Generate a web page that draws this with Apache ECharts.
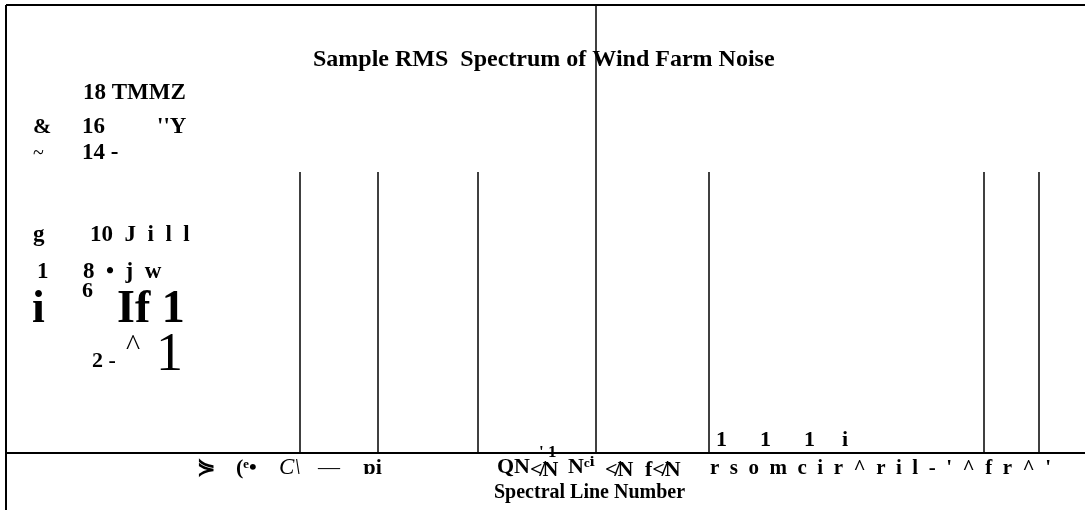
<!DOCTYPE html>
<html>
<head>
<meta charset="utf-8">
<script src="https://cdn.jsdelivr.net/npm/echarts@6/dist/echarts.min.js"></script>
<style>
html, body { margin: 0; padding: 0; background: #fff; }
#chart { width: 1085px; height: 510px; }
</style>
</head>
<body>
<div id="chart"></div>
<script>
// spectral lines: position along the axis and height of each line
var lineNumbers = [294, 372, 472, 590, 703, 978, 1033];
var lineLevels = [281, 281, 281, 448, 281, 281, 281];

var titleText = 'Sample RMS  Spectrum of Wind Farm Noise';
var xAxisName = 'Spectral Line Number';

// scanned axis labels, as they came out of the page
var yLabels = ['18 TMMZ', '&', '16', '\'\'Y', '~', '14 -', 'g', '10  J  i  l  l',
               '1', '8  •  j  w', 'i', '6', 'If 1', '2 -', '^', '1'];
var barTopLabels = ['1', '1', '1', 'i'];
var xTickLabels = ['⋟', '(ᵉ•', 'C\\', '—', 'ɒi', 'QN', '≮N', '\' 1', 'Nᶜⁱ', '≮N', 'f≮N',
                   'r  s  o  m  c  i  r  ^  r  i  l  -  \'  ^  f  r  ^  \''];

var serif = '"Liberation Serif", "DejaVu Serif", serif';

// where each label sits: [x, y, size, weight, style]
var yLabelPos = [
  [83, 93, 23, 'bold'], [33, 127, 22, 'bold'], [82, 127, 23, 'bold'], [157, 127, 23, 'bold'],
  [33, 154, 20, 'normal'], [82, 153, 23, 'bold'], [33, 235, 23, 'bold'], [90, 235, 23, 'bold'],
  [37, 272, 23, 'bold'], [83, 272, 23, 'bold'], [32, 310, 46, 'bold'], [82, 291, 22, 'bold'],
  [117, 310, 46, 'bold'], [92, 361, 22, 'bold'], [126, 347, 30, 'normal'], [156, 356, 54, 'normal']
];
var barTopPos = [[716, 440], [760, 440], [804, 440], [842, 440]];
var xTickPos = [
  [197, 468, 22, 'bold', 'normal'], [236, 468, 22, 'bold', 'normal'], [279, 468, 23, 'normal', 'italic'],
  [318, 468, 22, 'normal', 'normal'], [363, 468, 22, 'bold', 'normal'], [497, 467, 22, 'bold', 'normal'],
  [530, 470, 22, 'bold', 'normal'], [539, 453, 17, 'bold', 'normal'], [568, 467, 22, 'bold', 'normal'],
  [605, 470, 22, 'bold', 'normal'], [645, 470, 22, 'bold', 'normal'], [710, 469, 21, 'bold', 'normal']
];

function textEl(str, x, y, size, weight, style) {
  return {
    type: 'text',
    x: x,
    y: y,
    silent: true,
    style: {
      text: str,
      font: (style || 'normal') + ' ' + weight + ' ' + size + 'px ' + serif,
      fill: '#000',
      align: 'left',
      verticalAlign: 'middle'
    }
  };
}

var graphics = [
  { type: 'line', silent: true, shape: { x1: 6, y1: 5, x2: 1085, y2: 5 }, style: { stroke: '#000', lineWidth: 2 } },
  { type: 'line', silent: true, shape: { x1: 6, y1: 5, x2: 6, y2: 510 }, style: { stroke: '#000', lineWidth: 2 } }
];
yLabels.forEach(function (s, i) {
  var p = yLabelPos[i];
  graphics.push(textEl(s, p[0], p[1], p[2], p[3]));
});
barTopLabels.forEach(function (s, i) {
  graphics.push(textEl(s, barTopPos[i][0], barTopPos[i][1], 22, 'bold'));
});
xTickLabels.forEach(function (s, i) {
  var p = xTickPos[i];
  graphics.push(textEl(s, p[0], p[1], p[2], p[3], p[4]));
});
graphics.push(textEl(xAxisName, 494, 493, 20, 'bold'));

var box = echarts.init(document.getElementById('chart'));
var option = {
  animation: false,
  backgroundColor: '#fff',
  title: {
    text: titleText,
    left: 308,
    top: 43,
    textStyle: { fontFamily: serif, fontWeight: 'bold', fontSize: 24, color: '#000' }
  },
  grid: { left: 6, right: 0, top: 5, bottom: 57 },
  xAxis: {
    type: 'value',
    min: 0,
    max: 1079,
    axisLine: { show: true, onZero: false, lineStyle: { color: '#000', width: 2 } },
    axisTick: { show: false },
    axisLabel: { show: false },
    splitLine: { show: false }
  },
  yAxis: {
    type: 'value',
    min: 0,
    max: 448,
    axisLine: { show: false },
    axisTick: { show: false },
    axisLabel: { show: false },
    splitLine: { show: false }
  },
  series: [
    {
      type: 'bar',
      barWidth: 1.5,
      clip: false,
      silent: true,
      itemStyle: { color: '#000' },
      data: lineNumbers.map(function (n, i) { return [n, lineLevels[i]]; })
    }
  ],
  graphic: graphics
};
box.setOption(option);
</script>
</body>
</html>
